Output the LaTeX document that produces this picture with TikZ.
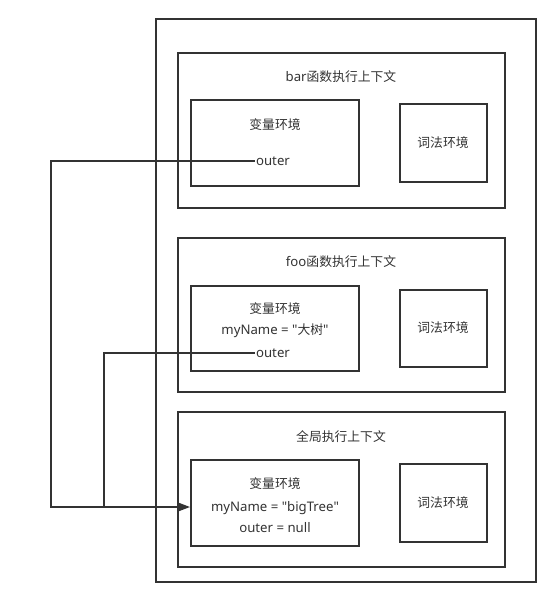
\documentclass[tikz,border=0pt]{standalone}
\usepackage{fontspec}
\setmainfont{Noto Sans}
\newfontfamily\cjkf{Noto Sans CJK SC}
\newcommand{\cjk}[1]{{\fontsize{12.8}{15}\cjkf #1}}
\newcommand{\qt}{\textquotedbl}
\usetikzlibrary{arrows.meta}
\definecolor{ln}{HTML}{333333}
\definecolor{tx}{HTML}{333333}
\begin{document}
\begin{tikzpicture}[x=1pt,y=-1pt,
  frame/.style={draw=ln,line width=1.3pt},
  lbl/.style={text=tx,font=\fontsize{13.2}{15}\selectfont,inner sep=1pt},
  conn/.style={draw=ln,line width=1.3pt}]
\useasboundingbox (0,0) rectangle (547,592);
% outer container
\draw[frame] (156,19) rectangle (536,582);
% bar context
\draw[frame] (178,53) rectangle (505,208);
\node[lbl] (bt) at (341,77) {bar\cjk{函数执行上下文}};
\draw[frame] (191,100) rectangle (359,186);
\node[lbl] (bv) at (275,125) {\cjk{变量环境}};
\node[lbl] (bo) at (273,161) {outer};
\draw[frame] (400,104) rectangle (487,182);
\node[lbl] (bl) at (443,143) {\cjk{词法环境}};
% foo context
\draw[frame] (178,238) rectangle (505,392);
\node[lbl] (ft) at (341,262) {foo\cjk{函数执行上下文}};
\draw[frame] (191,286) rectangle (359,371);
\node[lbl] (fv) at (275,309) {\cjk{变量环境}};
\node[lbl] (fn) at (275,331) {myName = \qt\cjk{大树}\qt};
\node[lbl] (fo) at (273,353) {outer};
\draw[frame] (400,290) rectangle (487,367);
\node[lbl] (fl) at (443,328) {\cjk{词法环境}};
% global context
\draw[frame] (178,412) rectangle (505,567);
\node[lbl] (gt) at (341,437) {\cjk{全局执行上下文}};
\draw[frame] (191,460) rectangle (359,546);
\node[lbl] (gv) at (275,484) {\cjk{变量环境}};
\node[lbl] (gn) at (275,508) {myName = \qt bigTree\qt};
\node[lbl] (go) at (275,528) {outer = null};
\draw[frame] (400,464) rectangle (487,542);
\node[lbl] (gl) at (443,503) {\cjk{词法环境}};
% connectors
\coordinate (tgt) at (190,507);
\draw[conn,-{Triangle[length=11pt,width=8pt]}] (bo.west) -- (51,161) -- (51,507) -- (tgt);
\draw[conn] (fo.west) -- (104,353) -- (104,507);
\end{tikzpicture}
\end{document}
